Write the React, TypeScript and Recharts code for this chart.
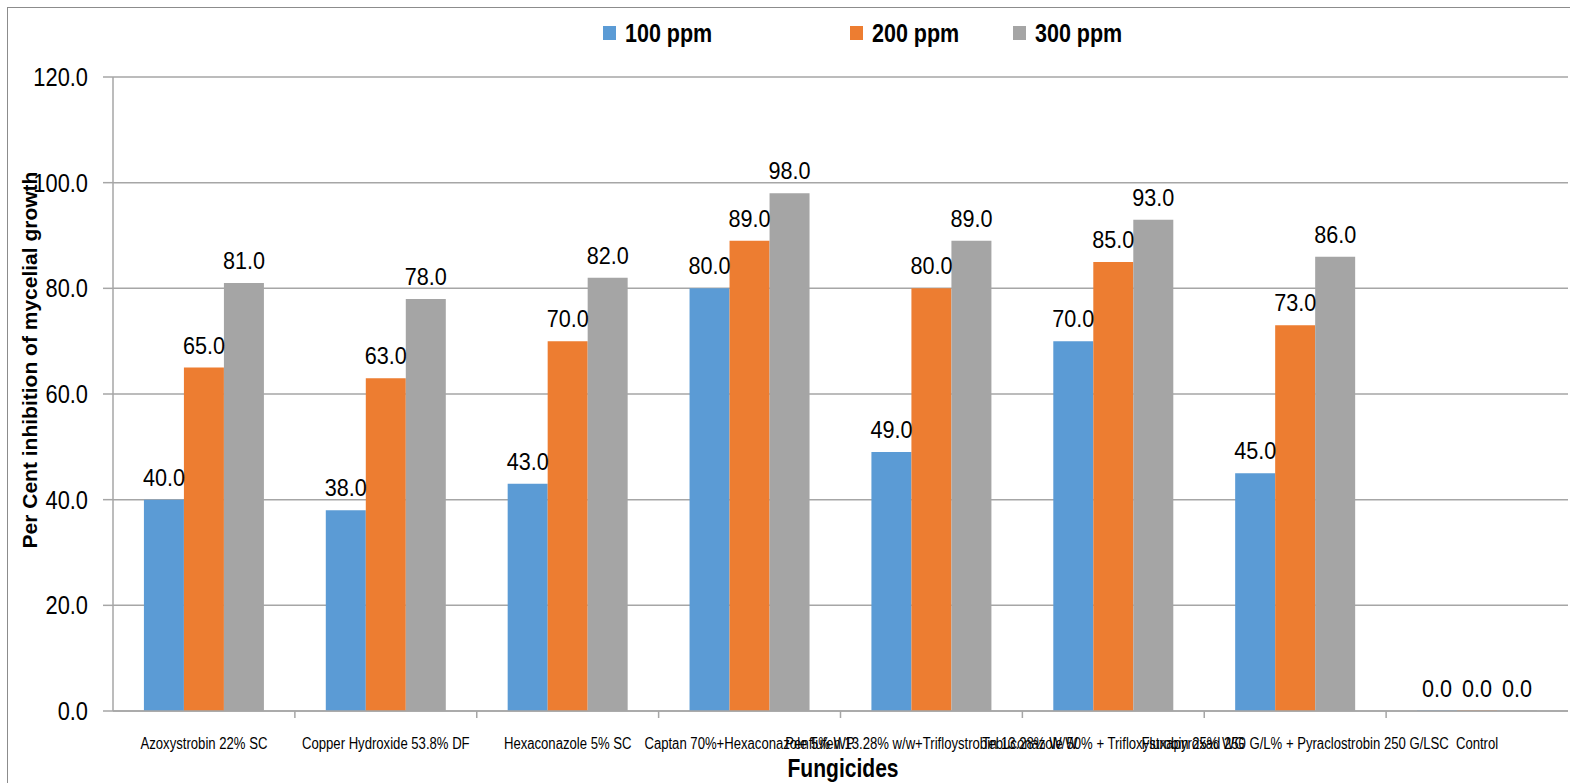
import React from "react";
import { BarChart, Bar, XAxis, YAxis, CartesianGrid, LabelList, Legend } from "recharts";

const fungicides = [
  "Azoxystrobin 22% SC",
  "Copper Hydroxide 53.8% DF",
  "Hexaconazole 5% SC",
  "Captan 70%+Hexaconazole 5% WP",
  "Penflufen 13.28% w/w+Trifloystrobin 13.28% W/W",
  "Tebuconazole 50% + Trifloxystrobin 25% WG",
  "Fluxapyroxad 250 G/L% + Pyraclostrobin 250 G/LSC",
  "Control",
];
const ppm100 = [40, 38, 43, 80, 49, 70, 45, 0];
const ppm200 = [65, 63, 70, 89, 80, 85, 73, 0];
const ppm300 = [81, 78, 82, 98, 89, 93, 86, 0];
const yTicks = [0, 20, 40, 60, 80, 100, 120];

const series = [
  { key: "p100", name: "100 ppm", color: "#5B9BD5" },
  { key: "p200", name: "200 ppm", color: "#ED7D31" },
  { key: "p300", name: "300 ppm", color: "#A5A5A5" },
];

const data = fungicides.map((name, i) => ({
  name,
  p100: ppm100[i],
  p200: ppm200[i],
  p300: ppm300[i],
}));

const FONT = "'Liberation Sans', Arial, sans-serif";
const GRID = "#a6a6a6";
const legendX = [603, 850, 1013];

// Arial-narrow look: squeeze regular glyphs horizontally
function NarrowText(props: any) {
  const { x, y, anchor = "middle", size, scale = 0.82, bold = false, children } = props;
  return (
    <text
      transform={`translate(${x} ${y}) scale(${scale} 1)`}
      textAnchor={anchor}
      fontFamily={FONT}
      fontSize={size}
      fontWeight={bold ? "bold" : "normal"}
      fill="#000"
    >
      {children}
    </text>
  );
}

function CategoryTick(props: any) {
  const { x, y, payload, width } = props;
  const band = (width || 1455) / fungicides.length;
  const left = x - band / 2;
  return (
    <g>
      {payload.index > 0 && <line x1={left} x2={left} y1={y} y2={y + 7} stroke={GRID} strokeWidth={1.5} />}
      <NarrowText x={x} y={y + 38} size={16} scale={0.82}>
        {payload.value}
      </NarrowText>
    </g>
  );
}

function ValueTick(props: any) {
  const { x, y, payload } = props;
  return (
    <NarrowText x={x} y={y + 9} anchor="end" size={26} scale={0.84}>
      {Number(payload.value).toFixed(1)}
    </NarrowText>
  );
}

function BarValue(props: any) {
  const { x, y, width, value } = props;
  return (
    <NarrowText x={Number(x) + Number(width) / 2} y={Number(y) - 14} size={24} scale={0.9}>
      {Number(value).toFixed(1)}
    </NarrowText>
  );
}

function renderLegend() {
  return (
    <div style={{ position: "relative", height: 30 }}>
      {series.map((s, i) => (
        <div
          key={s.key}
          style={{
            position: "absolute",
            left: legendX[i],
            top: 0,
            height: 30,
            display: "flex",
            alignItems: "center",
          }}
        >
          <span style={{ display: "inline-block", width: 13, height: 14, background: s.color, marginRight: 9 }} />
          <span
            style={{
              display: "inline-block",
              fontFamily: FONT,
              fontWeight: "bold",
              fontSize: 25,
              color: "#000",
              transform: "scaleX(0.86)",
              transformOrigin: "left center",
              whiteSpace: "nowrap",
            }}
          >
            {s.name}
          </span>
        </div>
      ))}
    </div>
  );
}

export default function App() {
  return (
    <div style={{ position: "fixed", left: 0, top: 0, width: 1570, height: 783, background: "#fff", overflow: "hidden" }}>
      <div
        style={{
          position: "absolute",
          left: 7,
          top: 7,
          width: 1600,
          height: 800,
          borderLeft: "1.5px solid #8c8c8c",
          borderTop: "1.5px solid #8c8c8c",
        }}
      />
      <div style={{ position: "absolute", left: 0, top: 0 }}>
        <BarChart
          width={1570}
          height={783}
          data={data}
          margin={{ top: 77, right: 2, bottom: 42, left: 0 }}
          barCategoryGap="17%"
          barGap={0}
        >
          <CartesianGrid vertical={false} stroke={GRID} strokeWidth={1.5} />
          <XAxis
            dataKey="name"
            interval={0}
            height={30}
            tickLine={false}
            tickSize={0}
            tickMargin={0}
            axisLine={{ stroke: GRID, strokeWidth: 1.5 }}
            tick={<CategoryTick />}
            label={{
              content: () => (
                <NarrowText x={843} y={777} size={26} scale={0.81} bold>
                  Fungicides
                </NarrowText>
              ),
            }}
          />
          <YAxis
            width={113}
            domain={[0, 120]}
            ticks={yTicks}
            interval={0}
            tick={<ValueTick />}
            tickSize={10}
            tickMargin={15}
            tickLine={{ stroke: GRID, strokeWidth: 1.5 }}
            axisLine={{ stroke: GRID, strokeWidth: 1.5 }}
            label={{
              content: () => (
                <text
                  x={37}
                  y={360}
                  transform="rotate(-90 37 360)"
                  textAnchor="middle"
                  fontFamily={FONT}
                  fontWeight="bold"
                  fontSize={21}
                  fill="#000"
                >
                  Per Cent inhibition of mycelial growth
                </text>
              ),
            }}
          />
          <Legend
            layout="horizontal"
            verticalAlign="middle"
            align="center"
            wrapperStyle={{ top: 18, left: 0, width: 1570 }}
            content={renderLegend}
          />
          {series.map((s) => (
            <Bar
              key={s.key}
              dataKey={s.key}
              name={s.name}
              fill={s.color}
              minPointSize={(v: any) => (Number(v) === 0 ? 0.5 : 0)}
              isAnimationActive={false}
            >
              <LabelList dataKey={s.key} position="top" content={<BarValue />} />
            </Bar>
          ))}
        </BarChart>
      </div>
    </div>
  );
}
